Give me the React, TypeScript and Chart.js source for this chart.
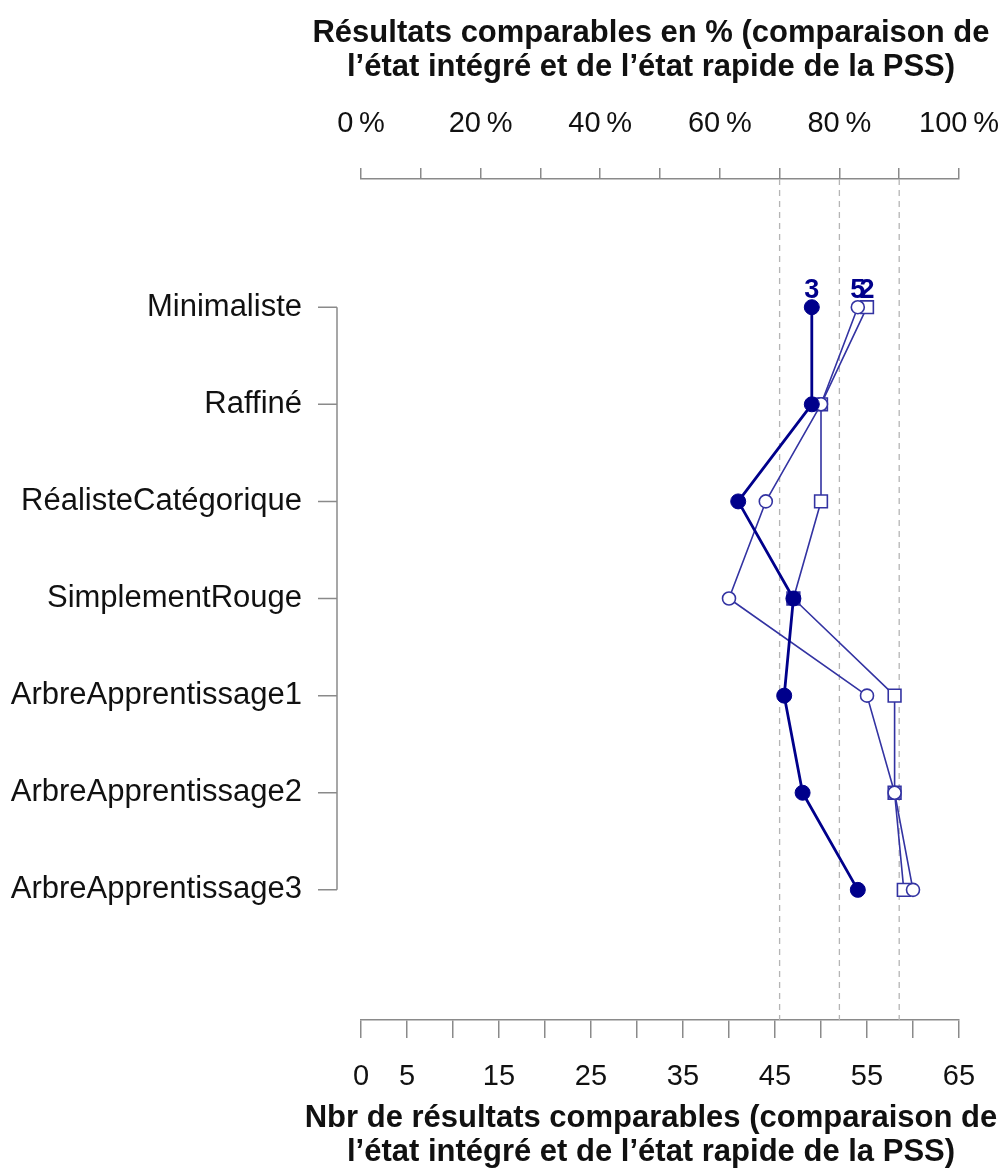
import React, { useEffect, useRef } from 'react';
import { Chart, registerables } from 'chart.js';

Chart.register(...registerables);

// Categories, top to bottom
const categories = [
  'Minimaliste',
  'Raffiné',
  'RéalisteCatégorique',
  'SimplementRouge',
  'ArbreApprentissage1',
  'ArbreApprentissage2',
  'ArbreApprentissage3',
];

// Number of comparable results per configuration (series named "3", "5", "2")
const series3 = [49, 49, 41, 47, 46, 48, 54];
const series5 = [54, 50, 44, 40, 55, 58, 60];
const series2 = [55, 50, 50, 47, 58, 58, 59];

// Reference thresholds on the percentage axis
const percentThresholds = [70, 80, 90];

// Axis ranges and labelled ticks
const countMax = 65;
const countStep = 5;
const countTickLabels = [0, 5, 15, 25, 35, 45, 55, 65];
const percentMax = 100;
const percentStep = 10;
const percentTickLabels = [0, 20, 40, 60, 80, 100];

const topTitle = [
  'Résultats comparables en % (comparaison de',
  'l’état intégré et de l’état rapide de la PSS)',
];
const bottomTitle = [
  'Nbr de résultats comparables (comparaison de',
  'l’état intégré et de l’état rapide de la PSS)',
];

const FONT = "'Liberation Sans', Arial, Helvetica, sans-serif";
const NAVY = '#00008B';
const BLUE = '#3333A2';
const GREY = '#8a8a8a';
const TEXT = '#111111';
const Y_MIN = -1.32;
const Y_MAX = categories.length - 1 + 1.34;

const toPoints = (vals: number[]) => vals.map((v, i) => ({ x: v, y: i }));

// Left category axis drawn offset from the plot region
const leftAxisPlugin = {
  id: 'leftAxis',
  beforeDatasetsDraw(chart: any) {
    const { ctx, chartArea, scales } = chart;
    const y = scales.y;
    const x0 = chartArea.left - 24;
    ctx.save();
    ctx.strokeStyle = GREY;
    ctx.lineWidth = 1.5;
    ctx.beginPath();
    ctx.moveTo(x0, y.getPixelForValue(0));
    ctx.lineTo(x0, y.getPixelForValue(categories.length - 1));
    categories.forEach((_, i) => {
      const py = y.getPixelForValue(i);
      ctx.moveTo(x0 - 19, py);
      ctx.lineTo(x0, py);
    });
    ctx.stroke();
    ctx.restore();
  },
};

// Series names written above the first point of each series
const seriesTagPlugin = {
  id: 'seriesTags',
  afterDatasetsDraw(chart: any) {
    const { ctx } = chart;
    ctx.save();
    ctx.font = `bold 27px ${FONT}`;
    ctx.fillStyle = NAVY;
    ctx.textAlign = 'center';
    ctx.textBaseline = 'middle';
    chart.data.datasets.forEach((ds: any, i: number) => {
      if (!ds.seriesTag) return;
      const pt = chart.getDatasetMeta(i).data[0];
      ctx.fillText(ds.label, pt.x, pt.y - 17);
    });
    ctx.restore();
  },
};

// Two-line axis titles, drawn at full width (no squeezing to the axis length)
const axisTitlesPlugin = {
  id: 'axisTitles',
  afterDraw(chart: any) {
    const { ctx, chartArea, height } = chart;
    const cx = (chartArea.left + chartArea.right) / 2 - 9;
    const lineGap = 34;
    ctx.save();
    ctx.font = `bold 31px ${FONT}`;
    ctx.fillStyle = TEXT;
    ctx.textAlign = 'center';
    ctx.textBaseline = 'middle';
    topTitle.forEach((line, i) => ctx.fillText(line, cx, 33 + i * lineGap));
    bottomTitle.forEach((line, i) =>
      ctx.fillText(line, cx, height - 53 + i * lineGap)
    );
    ctx.restore();
  },
};

const noSidePadding = (s: any) => {
  s.paddingLeft = 0;
  s.paddingRight = 0;
};

export default function App() {
  const canvasRef = useRef<HTMLCanvasElement | null>(null);

  useEffect(() => {
    if (!canvasRef.current) return;

    const thresholdSets = percentThresholds.map((p) => ({
      label: `${p} %`,
      xAxisID: 'xPct',
      data: [
        { x: p, y: Y_MIN },
        { x: p, y: Y_MAX },
      ],
      showLine: true,
      borderColor: '#b5b5b5',
      borderWidth: 1.3,
      borderDash: [6, 5],
      pointRadius: 0,
      order: 10,
    }));

    const chart = new Chart(canvasRef.current, {
      type: 'scatter',
      data: {
        datasets: [
          {
            label: '3',
            seriesTag: true,
            xAxisID: 'x',
            data: toPoints(series3),
            showLine: true,
            borderColor: NAVY,
            borderWidth: 2.8,
            borderCapStyle: 'round',
            borderJoinStyle: 'round',
            pointStyle: 'circle',
            pointRadius: 7.5,
            pointBackgroundColor: NAVY,
            pointBorderColor: NAVY,
            pointBorderWidth: 1,
            order: 0,
          },
          {
            label: '5',
            seriesTag: true,
            xAxisID: 'x',
            data: toPoints(series5),
            showLine: true,
            borderColor: BLUE,
            borderWidth: 1.6,
            borderCapStyle: 'round',
            borderJoinStyle: 'round',
            pointStyle: 'circle',
            pointRadius: 6.5,
            pointBackgroundColor: '#ffffff',
            pointBorderColor: BLUE,
            pointBorderWidth: 1.6,
            order: 0,
          },
          {
            label: '2',
            seriesTag: true,
            xAxisID: 'x',
            data: toPoints(series2),
            showLine: true,
            borderColor: BLUE,
            borderWidth: 1.6,
            borderCapStyle: 'round',
            borderJoinStyle: 'round',
            pointStyle: 'rect',
            pointRadius: 9,
            pointBackgroundColor: '#ffffff',
            pointBorderColor: BLUE,
            pointBorderWidth: 1.6,
            order: 0,
          },
          ...thresholdSets,
        ] as any,
      },
      options: {
        responsive: false,
        animation: false,
        events: [],
        layout: { padding: { left: 0, right: 46, top: 0, bottom: 0 } },
        plugins: {
          legend: { display: false },
          tooltip: { enabled: false },
        },
        scales: {
          x: {
            type: 'linear',
            position: 'bottom',
            min: 0,
            max: countMax,
            afterFit: (s: any) => {
              s.height = 151;
              noSidePadding(s);
            },
            ticks: {
              stepSize: countStep,
              autoSkip: false,
              maxRotation: 0,
              minRotation: 0,
              padding: 22,
              color: TEXT,
              font: { family: FONT, size: 29 },
              callback: (v: any) => (countTickLabels.includes(Number(v)) ? String(v) : ''),
            },
            grid: {
              drawOnChartArea: false,
              drawTicks: true,
              tickLength: 18,
              color: GREY,
              lineWidth: 1.5,
            },
            border: { display: true, color: GREY, width: 1.5 },
          },
          xPct: {
            type: 'linear',
            position: 'top',
            min: 0,
            max: percentMax,
            afterFit: (s: any) => {
              s.height = 179;
              noSidePadding(s);
            },
            ticks: {
              stepSize: percentStep,
              autoSkip: false,
              maxRotation: 0,
              minRotation: 0,
              padding: 27,
              color: TEXT,
              font: { family: FONT, size: 29 },
              callback: (v: any) =>
                percentTickLabels.includes(Number(v)) ? `${v}\u2009%` : '',
            },
            grid: {
              drawOnChartArea: false,
              drawTicks: true,
              tickLength: 11,
              color: GREY,
              lineWidth: 1.5,
            },
            border: { display: true, color: GREY, width: 1.5 },
          },
          y: {
            type: 'linear',
            position: 'left',
            reverse: true,
            min: Y_MIN,
            max: Y_MAX,
            afterFit: (s: any) => {
              s.width = 361;
            },
            afterBuildTicks: (s: any) => {
              s.ticks = categories.map((_, i) => ({ value: i }));
            },
            ticks: {
              autoSkip: false,
              padding: 59,
              color: TEXT,
              font: { family: FONT, size: 31 },
              callback: (v: any) => categories[Number(v)] ?? '',
            },
            grid: { display: false, drawTicks: false },
            border: { display: false },
          },
        },
      } as any,
      plugins: [leftAxisPlugin, seriesTagPlugin, axisTitlesPlugin],
    });

    return () => chart.destroy();
  }, []);

  return (
    <div style={{ position: 'absolute', left: 0, top: 0, width: 1005, height: 1171, background: '#ffffff' }}>
      <canvas ref={canvasRef} width={1005} height={1171} style={{ display: 'block' }} />
    </div>
  );
}
